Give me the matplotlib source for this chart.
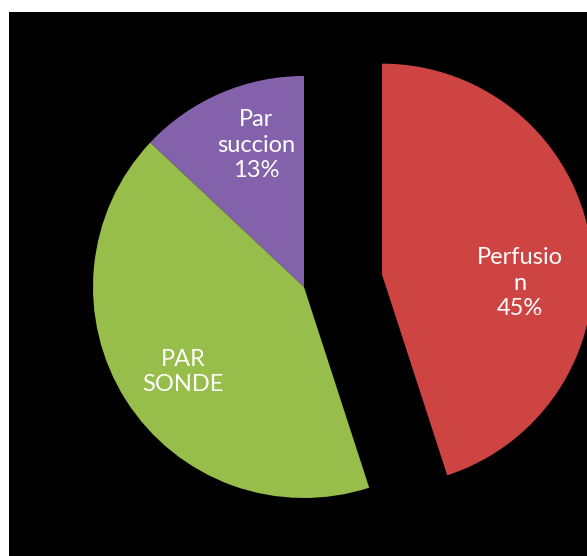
import matplotlib
matplotlib.use("Agg")
import matplotlib.pyplot as plt

# data
categories = ["Par succion", "PAR SONDE", "Perfusion"]
values = [13, 42, 45]
label_texts = ["Par\nsuccion\n13%", "PAR\nSONDE", "Perfusio\nn\n45%"]
colors = ["#8462AB", "#97BD4A", "#CE4442"]

W, H = 587, 556
fig = plt.figure(figsize=(W / 100, H / 100), dpi=100, facecolor="white")

# black plot area, axes units == pixels
left, top = 9, 12
ax = fig.add_axes([left / W, 0, 1 - left / W, 1 - top / H])
ax.set_facecolor("black")
ax.set_xlim(left, W)
ax.set_ylim(0, H - top)
ax.set_aspect("equal")
ax.set_xticks([])
ax.set_yticks([])
for s in ax.spines.values():
    s.set_visible(False)

center = (304, H - 287)
radius = 211
explode = [0, 0, 79]

wedges, _ = ax.pie(values, colors=colors, startangle=90, counterclock=True,
                   center=center, radius=radius, explode=explode,
                   wedgeprops=dict(linewidth=0), frame=True)
ax.set_xlim(left, W)
ax.set_ylim(0, H - top)
ax.set_xticks([])
ax.set_yticks([])

# label spots (pixel positions in the image)
label_pos = [(256, 145), (183, 372), (520, 283)]
for txt, (px, py) in zip(label_texts, label_pos):
    ax.text(px, H - py, txt, ha="center", va="center", color="white",
            fontsize=17, family=["Lato", "DejaVu Sans"], linespacing=1.25)

fig.savefig("out.png", dpi=100, facecolor="white")
